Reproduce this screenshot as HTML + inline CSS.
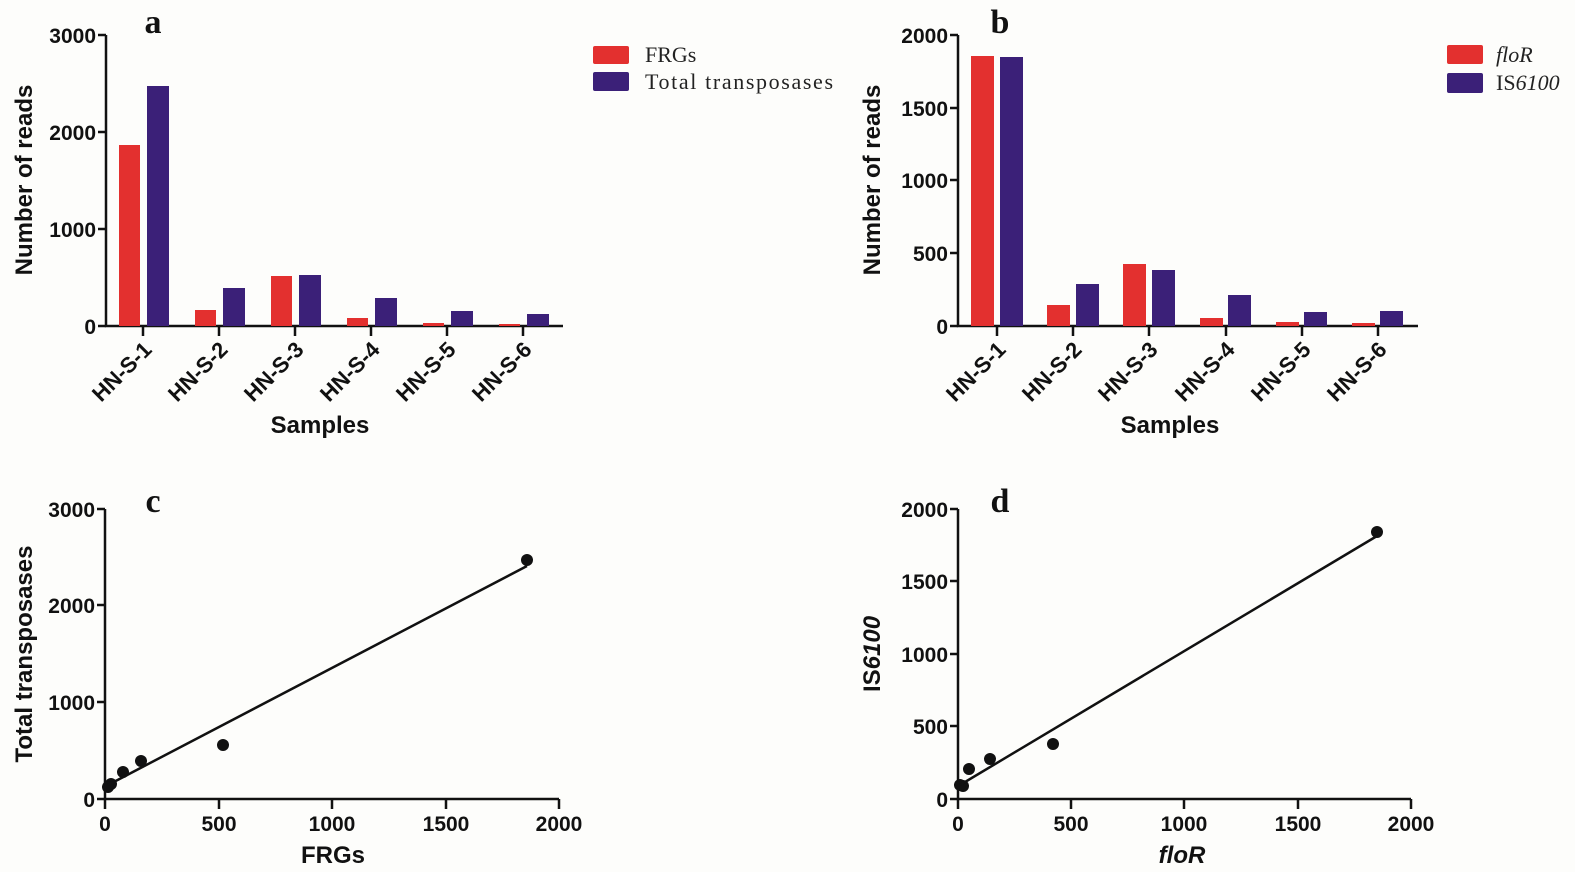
<!DOCTYPE html>
<html><head><meta charset="utf-8"><style>
html,body{margin:0;padding:0;background:#fdfdfb;}
svg{display:block;}
.t{font-family:"Liberation Sans",sans-serif;font-weight:bold;font-size:21px;fill:#111;}
.tx{font-family:"Liberation Sans",sans-serif;font-weight:bold;font-size:22px;fill:#111;}
.ti{font-family:"Liberation Sans",sans-serif;font-weight:bold;font-size:24px;fill:#111;}
.lg{font-family:"Liberation Serif",serif;font-size:22px;fill:#222;}
.pl{font-family:"Liberation Serif",serif;font-weight:bold;font-size:34px;fill:#111;}
</style></head><body>
<svg width="1575" height="872" viewBox="0 0 1575 872" xmlns="http://www.w3.org/2000/svg">
<rect width="1575" height="872" fill="#fdfdfb"/>
<g stroke="#111" stroke-width="2.5" fill="none">
<path d="M106 35 V326 H563"/>
<path d="M98 35H106M98 132H106M98 229H106M98 326H106"/>
<path d="M143 326V336M219 326V336M295 326V336M371 326V336M447 326V336M523 326V336"/>
<path d="M958 35 V326 H1418"/>
<path d="M950 35H958M950 108H958M950 180H958M950 253H958M950 326H958"/>
<path d="M997 326V336M1073 326V336M1149 326V336M1226 326V336M1302 326V336M1378 326V336"/>
<path d="M105 509 V799 H559"/>
<path d="M97 509H105M97 605H105M97 702H105M97 799H105"/>
<path d="M105 799V809M219 799V809M332 799V809M446 799V809M559 799V809"/>
<path d="M958 509 V799 H1411"/>
<path d="M950 509H958M950 581H958M950 654H958M950 726H958M950 799H958"/>
<path d="M958 799V809M1071 799V809M1184 799V809M1298 799V809M1411 799V809"/>
</g>
<g fill="#e3302f">
<rect x="119" y="145" width="21" height="181"/>
<rect x="195" y="310" width="21" height="16"/>
<rect x="271" y="276" width="21" height="50"/>
<rect x="347" y="318" width="21" height="8"/>
<rect x="423" y="323" width="21" height="3"/>
<rect x="499" y="324" width="21" height="2"/>
</g>
<g fill="#3b2078">
<rect x="147" y="86" width="22" height="240"/>
<rect x="223" y="288" width="22" height="38"/>
<rect x="299" y="275" width="22" height="51"/>
<rect x="375" y="298" width="22" height="28"/>
<rect x="451" y="311" width="22" height="15"/>
<rect x="527" y="314" width="22" height="12"/>
</g>
<g fill="#e3302f">
<rect x="971" y="56" width="23" height="270"/>
<rect x="1047" y="305" width="23" height="21"/>
<rect x="1123" y="264" width="23" height="62"/>
<rect x="1200" y="318" width="23" height="8"/>
<rect x="1276" y="322" width="23" height="4"/>
<rect x="1352" y="323" width="23" height="3"/>
</g>
<g fill="#3b2078">
<rect x="1000" y="57" width="23" height="269"/>
<rect x="1076" y="284" width="23" height="42"/>
<rect x="1152" y="270" width="23" height="56"/>
<rect x="1228" y="295" width="23" height="31"/>
<rect x="1304" y="312" width="23" height="14"/>
<rect x="1380" y="311" width="23" height="15"/>
</g>
<g class="t" text-anchor="end">
<text x="96" y="43">3000</text><text x="96" y="140">2000</text><text x="96" y="237">1000</text><text x="96" y="334">0</text>
<text x="948" y="43">2000</text><text x="948" y="116">1500</text><text x="948" y="188">1000</text><text x="948" y="261">500</text><text x="948" y="334">0</text>
<text x="95" y="517">3000</text><text x="95" y="613">2000</text><text x="95" y="710">1000</text><text x="95" y="807">0</text>
<text x="948" y="517">2000</text><text x="948" y="589">1500</text><text x="948" y="662">1000</text><text x="948" y="734">500</text><text x="948" y="807">0</text>
</g>
<g class="tx" text-anchor="end">
<text transform="translate(153,351) rotate(-45)">HN-S-1</text>
<text transform="translate(229,351) rotate(-45)">HN-S-2</text>
<text transform="translate(305,351) rotate(-45)">HN-S-3</text>
<text transform="translate(381,351) rotate(-45)">HN-S-4</text>
<text transform="translate(457,351) rotate(-45)">HN-S-5</text>
<text transform="translate(533,351) rotate(-45)">HN-S-6</text>
<text transform="translate(1007,351) rotate(-45)">HN-S-1</text>
<text transform="translate(1083,351) rotate(-45)">HN-S-2</text>
<text transform="translate(1159,351) rotate(-45)">HN-S-3</text>
<text transform="translate(1236,351) rotate(-45)">HN-S-4</text>
<text transform="translate(1312,351) rotate(-45)">HN-S-5</text>
<text transform="translate(1388,351) rotate(-45)">HN-S-6</text>
</g>
<g class="t" text-anchor="middle">
<text x="105" y="831">0</text><text x="219" y="831">500</text><text x="332" y="831">1000</text><text x="446" y="831">1500</text><text x="559" y="831">2000</text>
<text x="958" y="831">0</text><text x="1071" y="831">500</text><text x="1184" y="831">1000</text><text x="1298" y="831">1500</text><text x="1411" y="831">2000</text>
</g>
<g class="ti" text-anchor="middle">
<text x="320" y="433">Samples</text>
<text x="1170" y="433">Samples</text>
<text x="333" y="863">FRGs</text>
<text x="1182" y="863" font-style="italic">floR</text>
<text transform="translate(32,180) rotate(-90)">Number of reads</text>
<text transform="translate(880,180) rotate(-90)">Number of reads</text>
<text transform="translate(32,654) rotate(-90)">Total transposases</text>
<text transform="translate(880,654) rotate(-90)">IS<tspan font-style="italic">6100</tspan></text>
</g>
<g class="pl" text-anchor="middle">
<text x="153" y="33">a</text><text x="1000" y="33">b</text>
<text x="153" y="512">c</text><text x="1000" y="512">d</text>
</g>
<rect x="593" y="46" width="36" height="18" rx="2" fill="#e3302f"/>
<rect x="593" y="72" width="36" height="19" rx="2" fill="#3b2078"/>
<text class="lg" x="645" y="62">FRGs</text>
<text class="lg" x="645" y="89" textLength="188">Total transposases</text>
<rect x="1447" y="45" width="36" height="19" rx="2" fill="#e3302f"/>
<rect x="1447" y="73" width="36" height="20" rx="2" fill="#3b2078"/>
<text class="lg" x="1496" y="62" font-style="italic">floR</text>
<text class="lg" x="1496" y="90">IS<tspan font-style="italic">6100</tspan></text>
<g fill="#111">
<circle cx="527" cy="560" r="6"/>
<circle cx="141" cy="761" r="6"/>
<circle cx="223" cy="745" r="6"/>
<circle cx="123" cy="772" r="6"/>
<circle cx="111" cy="784" r="6"/>
<circle cx="108" cy="787" r="6"/>
</g>
<line x1="108" y1="785" x2="527" y2="566" stroke="#111" stroke-width="2.5"/>
<g fill="#111">
<circle cx="1377" cy="532" r="6"/>
<circle cx="990" cy="759" r="6"/>
<circle cx="1053" cy="744" r="6"/>
<circle cx="969" cy="769" r="6"/>
<circle cx="963" cy="786" r="6"/>
<circle cx="960" cy="785" r="6"/>
</g>
<line x1="960" y1="785" x2="1377" y2="536" stroke="#111" stroke-width="2.5"/>
</svg>
</body></html>
